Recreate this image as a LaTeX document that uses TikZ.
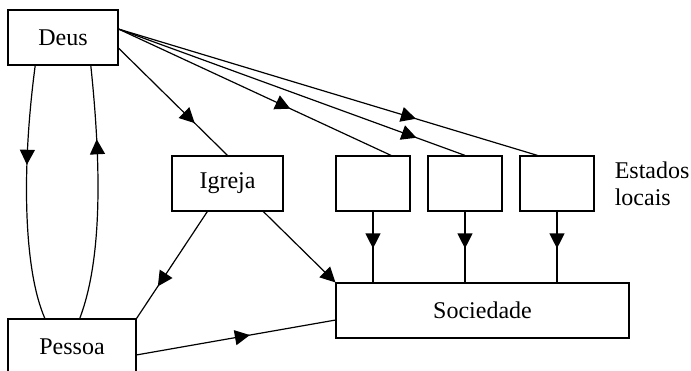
\documentclass[tikz,border=0pt]{standalone}
\usepackage{fontspec}
\setmainfont{Liberation Serif}
\usetikzlibrary{positioning,calc,arrows.meta,decorations.markings}

\begin{document}
\begin{tikzpicture}[x=0.5pt,y=-0.5pt,line width=0.6pt,font=\fontsize{12}{13.5}\selectfont]

	\tikzstyle{caja} = [rectangle,draw=black,inner sep=0pt,minimum height=27.5pt]
	\tikzstyle{estado} = [caja,minimum width=37pt]
	\tikzset{flecha/.style={postaction={decorate},decoration={markings,
		mark=at position #1 with {\arrow{Triangle[length=7.5pt,width=7.5pt]}}}}}

	\path[use as bounding box,clip] (0,0) rectangle (691,370);

	\node[caja,minimum width=55pt] (deus) at (63,37.5) {Deus};
	\node[caja,minimum width=55.5pt] (igreja) at (227.5,183.5) {Igreja};
	\node[estado] (e1) at (373,183.5) {};
	\node[estado,right=8.4pt of e1] (e2) {};
	\node[estado,right=8.4pt of e2] (e3) {};
	\node[right=9.8pt of e3,align=left,inner sep=0pt] (estados) {Estados\\locais};
	\node[caja,minimum width=146.5pt] (soc) at (482.5,310.5) {Sociedade};
	\node[caja,minimum width=64pt] (pessoa) at (72,346.5) {Pessoa};

	% Deus e Pessoa
	\draw[flecha=0.39] ($(deus.south west)!0.25!(deus.south east)$)
		.. controls +(-14,105) and +(-21,-48) .. ($(pessoa.north west)!0.29!(pessoa.north east)$);
	\draw[flecha=0.71] ($(pessoa.north west)!0.56!(pessoa.north east)$)
		.. controls +(22,-58) and +(11,105) .. ($(deus.south west)!0.75!(deus.south east)$);

	% desde Deus
	\draw[flecha=0.7] ($(deus.north east)!0.69!(deus.south east)$) -- (igreja.north);
	\coordinate (d) at ($(deus.north east)!0.35!(deus.south east)$);
	\draw[flecha=0.63] (d) -- ($(e1.north west)!0.74!(e1.north east)$);
	\draw[flecha=0.86] (d) -- (e2.north);
	\draw[flecha=0.71] (d) -- ($(e3.north west)!0.24!(e3.north east)$);

	% hacia Sociedade
	\draw[flecha=0.7] ($(igreja.south west)!0.32!(igreja.south east)$) -- (pessoa.north east);
	\draw[-{Triangle[length=7.5pt,width=7.5pt]}] ($(igreja.south west)!0.82!(igreja.south east)$) -- (soc.north west);
	\draw[flecha=0.57] ($(pessoa.north east)!0.65!(pessoa.south east)$) -- ($(soc.north west)!0.67!(soc.south west)$);
	\foreach \e in {e1,e2,e3}
		\draw[flecha=0.52] (\e.south) -- (\e.south |- soc.north);

\end{tikzpicture}
\end{document}
